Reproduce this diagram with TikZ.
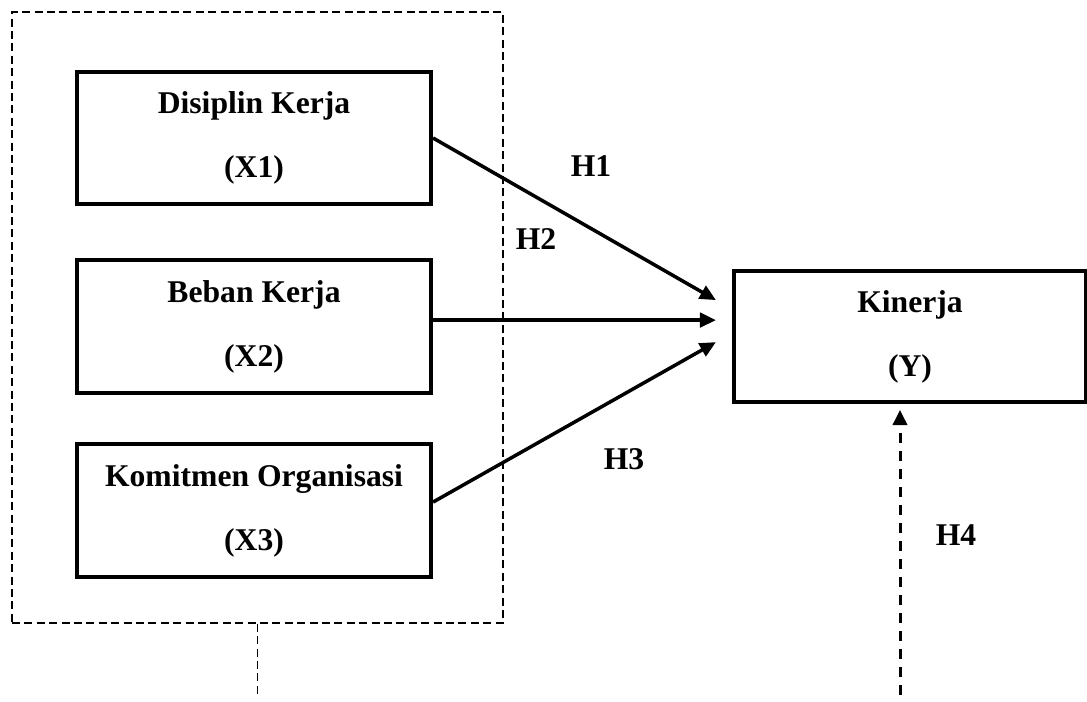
\documentclass[tikz,border=0pt]{standalone}
\usepackage{fontspec}
\setmainfont{Liberation Serif}
\usetikzlibrary{arrows.meta,calc,positioning}

\begin{document}
\begin{tikzpicture}[x=0.025cm,y=-0.025cm,
    varbox/.style={draw,line width=0.1cm,minimum width=8.85cm,minimum height=3.3cm,
      align=center,inner sep=0pt,font=\fontsize{22.5}{45.5}\selectfont\bfseries,
      execute at begin node={\rule{0pt}{20pt}}},
    groupbox/.style={draw,line width=0.04cm,dash pattern=on 0.2cm off 0.11cm,
      minimum width=12.275cm,minimum height=15.275cm,inner sep=0pt},
    hlabel/.style={inner sep=0pt,font=\fontsize{22.5}{27}\selectfont\bfseries},
    effect/.style={line width=0.0875cm,-{Triangle[length=0.4cm,width=0.36cm]}},
    groupline/.style={line width=0.04cm,dash pattern=on 0.2cm off 0.11cm},
    jointeffect/.style={line width=0.075cm,dash pattern=on 0.25cm off 0.2cm,
      -{Triangle[length=0.38cm,width=0.36cm]}}]
  \useasboundingbox (0,0) rectangle (1087,702);
  % \clip (0,0) rectangle (1087,702);

  % Drawing group of X1 X2 X3
  \node [groupbox] (group) at (257.5,317.5) {};

  % Drawing box X1
  \node [varbox] (x1) at (254,138) {Disiplin Kerja\\(X1)};

  % Drawing box X2
  \node [varbox] (x2) at (254,326.5) {Beban Kerja\\(X2)};

  % Drawing box X3
  \node [varbox] (x3) at (254,510.5) {Komitmen Organisasi\\(X3)};

  % Drawing box Y
  \node [varbox,minimum width=8.8cm,minimum height=3.28cm] (ky) at (910,336.5) {Kinerja\\(Y)};

  % Drawing arrow X1 Y
  \coordinate (t1) at ([xshift=-0.4cm,yshift=0.91cm]ky.west);
  \draw [effect] (x1.east) -- (t1);

  % Drawing arrow X2 Y
  \coordinate (s2) at ([yshift=0.16cm]x2.east);
  \coordinate (t2) at ([xshift=-0.4cm,yshift=0.16cm]x2.east -| ky.west);
  \draw [effect] (s2) -- (t2);

  % Drawing arrow X3 Y
  \coordinate (s3) at ([yshift=0.21cm]x3.east);
  \coordinate (t3) at ([xshift=-0.4cm,yshift=-0.14cm]ky.west);
  \draw [effect] (s3) -- (t3);

  % Drawing segment group
  \coordinate (gend) at (257.5,697);
  \draw [groupline] (group.south) -- (gend);

  % Drawing arrow group Y
  \coordinate (yend) at (900,695);
  \coordinate (ytip) at (900,410);
  \draw [jointeffect] (yend) -- (ytip);

  % Marking H1 H2 H3 H4
  \node [hlabel] (h1) at (591,166) {H1};
  \node [hlabel] (h2) at (536,239) {H2};
  \node [hlabel] (h3) at (624,459) {H3};
  \node [hlabel] (h4) at (956,535) {H4};
\end{tikzpicture}
\end{document}
